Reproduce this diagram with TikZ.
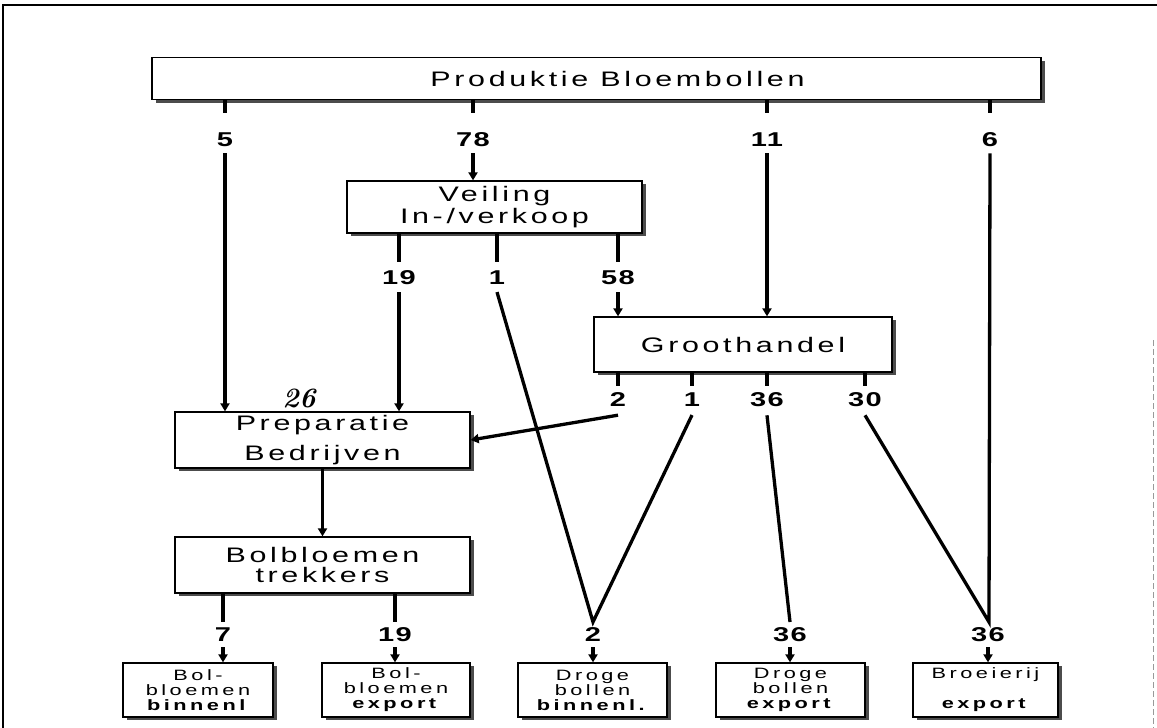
\documentclass[tikz,border=0pt]{standalone}
\usepackage{fontspec}
\usepackage{graphicx}
\usetikzlibrary{arrows.meta,shadows}
% extended plotter lettering: tracked, then widened line by line
\newfontfamily\plotfont[LetterSpace=12]{Liberation Sans}
\newfontfamily\leaffont[LetterSpace=16]{Liberation Sans}
\newfontfamily\numfont[LetterSpace=5]{Liberation Sans Bold}
\newcommand\wl[1]{\scalebox{1.45}[1]{#1}}

\begin{document}
\begin{tikzpicture}[x=1pt,y=-1pt,
  box/.style={draw=black,line width=1.3pt,fill=white,align=center,inner sep=0pt,
    font=\plotfont\fontsize{21}{25}\selectfont,
    drop shadow={shadow xshift=3.5pt,shadow yshift=-3pt,fill=black!70,opacity=1}},
  leaf/.style={box,minimum height=54pt,font=\leaffont\fontsize{15}{15}\selectfont},
  num/.style={inner sep=0pt,font=\numfont\fontsize{20}{20}\selectfont},
  flow/.style={line width=3.3pt,line join=miter,miter limit=25},
  feed/.style={flow,-{Triangle[width=9pt,length=8pt]}},
]
\useasboundingbox (0,0) rectangle (1157,728);

% page frame
\draw[line width=2.5pt] (1157,5) -- (3,5) -- (3,728);
\draw[line width=0.8pt,black!40,dash pattern=on 6pt off 3pt] (1153,340) -- (1153,728);

% boxes
\node[box,minimum width=889pt,minimum height=42pt] (prod) at (596.5,78.5)
  {\hspace*{42pt}\wl{Produktie Bloembollen}};
\node[box,minimum width=295pt,minimum height=52pt] (veil) at (494.5,207)
  {\wl{Veiling}\\[-3pt]\wl{In-/verkoop}};
\node[box,minimum width=298pt,minimum height=55pt] (groot) at (743,344.5)
  {\wl{Groothandel}};
\node[box,minimum width=295pt,minimum height=56pt] (prep) at (322.5,440)
  {\wl{Preparatie}\\[5pt]\wl{Bedrijven}};
\node[box,minimum width=295pt,minimum height=56pt] (bolb) at (322.5,565)
  {\wl{Bolbloemen}\\[-5pt]\wl{trekkers}};

\node[leaf,minimum width=150pt] (b1) at (198,690)
  {\wl{Bol-}\\\wl{bloemen}\\\wl{\textbf{binnenl}}};
\node[leaf,minimum width=148pt] (b2) at (396,690)
  {\wl{Bol-}\\\wl{bloemen}\\\wl{\textbf{export}}};
\node[leaf,minimum width=149pt] (b3) at (592.5,690)
  {\wl{Droge}\\\wl{bollen}\\\wl{\textbf{binnenl.}}};
\node[leaf,minimum width=149pt] (b4) at (790.5,690)
  {\wl{Droge}\\\wl{bollen}\\\wl{\textbf{export}}};
\node[leaf,minimum width=145pt] (b5) at (985.5,690)
  {\wl{Broeierij}\\[15pt]\wl{\textbf{export}}};

% quantities
\node[num] (a5)  at (225,140) {\wl{5}};
\node[num] (a78) at (473,140) {\wl{78}};
\node[num] (a11) at (767,140) {\wl{11}};
\node[num] (a6)  at (990,140) {\wl{6}};

\node[num] (v19) at (399,278) {\wl{19}};
\node[num] (v1)  at (497,278) {\wl{1}};
\node[num] (v58) at (618,278) {\wl{58}};

\node[num] (g2)  at (618,400) {\wl{2}};
\node[num] (g1)  at (692,400) {\wl{1}};
\node[num] (g36) at (767,400) {\wl{36}};
\node[num] (g30) at (865,400) {\wl{30}};

\node[num] (t7)  at (223,635) {\wl{7}};
\node[num] (t19) at (395,635) {\wl{19}};
\node[num] (d2)  at (593,635) {\wl{2}};
\node[num] (d36) at (790,635) {\wl{36}};
\node[num] (r36) at (988,635) {\wl{36}};

\node[font=\bfseries\itshape\fontsize{28}{28}\selectfont,inner sep=0pt] (hand) at (299,398) {26};

% meeting points above the bottom quantities
\coordinate (mD) at (593,622);
\coordinate (mE) at (790,622);
\coordinate (mR) at (989,622);

% from production
\foreach \n in {a5,a78,a11,a6}
  \draw[flow] (prod.south -| \n) -- ([yshift=20pt]\n.north);
\draw[feed] ([yshift=-6pt]a5.south) -- (prep.north -| a5);
\draw[feed] ([yshift=-6pt]a78.south) -- (veil.north -| a78);
\draw[feed] ([yshift=-6pt]a11.south) -- (groot.north -| a11);

% from the auction
\foreach \n in {v19,v1,v58}
  \draw[flow] (veil.south -| \n) -- ([yshift=9pt]\n.north);
\draw[feed] ([yshift=-7pt]v19.south) -- (prep.north -| v19);
\draw[feed] ([yshift=-7pt]v58.south) -- (groot.north -| v58);

% from wholesale
\foreach \n in {g2,g1,g36,g30}
  \draw[flow] (groot.south -| \n) -- ([yshift=7pt]\n.north);
\draw[feed] ([yshift=-8pt]g2.south) -- (prep.east);
\draw[flow] ([yshift=-7pt]v1.south) -- (mD) -- ([yshift=-8pt]g1.south);
\draw[flow] ([yshift=-8pt]g36.south) -- (mE);
\draw[flow] ([yshift=-6pt]a6.south) -- (mR) -- ([yshift=-8pt]g30.south);

% preparation and forcing
\draw[feed] (prep.south) -- (bolb.north);
\foreach \n in {t7,t19}
  \draw[flow] (bolb.south -| \n) -- ([yshift=6pt]\n.north);

% into the end destinations
\draw[feed] ([yshift=-5pt]t7.south) -- (b1.north -| t7);
\draw[feed] ([yshift=-5pt]t19.south) -- (b2.north -| t19);
\draw[feed] ([yshift=-5pt]d2.south) -- (b3.north -| d2);
\draw[feed] ([yshift=-5pt]d36.south) -- (b4.north -| d36);
\draw[feed] ([yshift=-5pt]r36.south) -- (b5.north -| r36);
\end{tikzpicture}
\end{document}
